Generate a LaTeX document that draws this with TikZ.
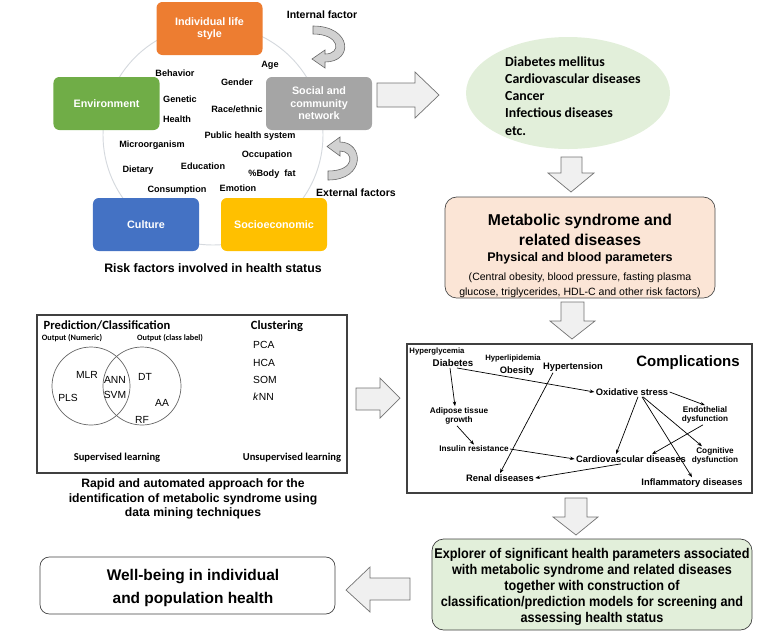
\documentclass[tikz,border=0pt]{standalone}
\usepackage{fontspec}
\setmainfont{Liberation Sans}
\newfontfamily\calib{Carlito}
\newfontfamily\narrowsf[FakeStretch=0.9]{Liberation Sans}
\usetikzlibrary{shapes.geometric,arrows.meta,calc}

\definecolor{lifeorange}{HTML}{ED7D31}
\definecolor{envgreen}{HTML}{70AD47}
\definecolor{socgray}{HTML}{A5A5A5}
\definecolor{cultblue}{HTML}{4472C4}
\definecolor{sociyellow}{HTML}{FFC000}
\definecolor{palegreen}{HTML}{E2EFDA}
\definecolor{peach}{HTML}{FBE5D6}
\definecolor{ringgray}{HTML}{D5D9DE}

\tikzset{
  factor/.style={rounded corners=5pt, minimum width=3.18cm, minimum height=1.59cm,
    text=white, align=center, font=\bfseries\fontsize{9.2}{10.6}\selectfont},
  riskword/.style={inner sep=0pt, font=\bfseries\fontsize{7.8}{9}\selectfont},
  fatarrow/.style={draw=black!55, fill=black!6, line width=0.6pt},
  bendarrow/.style={draw=black!60, fill=black!18, line width=0.5pt},
  comp/.style={inner sep=1pt, align=center, font=\bfseries\fontsize{8}{9.5}\selectfont},
  compsmall/.style={inner sep=1pt, align=center, font=\bfseries\fontsize{7}{7.8}\selectfont},
  link/.style={-{Stealth[length=4pt,width=3pt]}, line width=0.6pt},
  mlword/.style={inner sep=0pt, font=\fontsize{8.8}{10}\selectfont},
}

\begin{document}
\begin{tikzpicture}[x=0.03cm,y=-0.03cm]
\useasboundingbox (0,0) rectangle (758,631);

% risk factors
\draw[ringgray, line width=0.8pt] (213,135) circle[radius=3.3cm];
\node[factor, fill=lifeorange] (life) at (209.5,28.5) {Individual life\\style};
\node[factor, fill=envgreen] (env) at (106.5,103.5) {Environment};
\node[factor, fill=socgray] (social) at (319,103.5) {Social and\\community\\network};
\node[factor, fill=cultblue] (cult) at (146,224.5) {Culture};
\node[factor, fill=sociyellow] (socio) at (274,224.5) {Socioeconomic};

\node[riskword] (w1) at (175,73) {Behavior};
\node[riskword] (w2) at (270,65) {Age};
\node[riskword] (w3) at (237,82) {Gender};
\node[riskword] (w4) at (180,99) {Genetic};
\node[riskword] (w5) at (237,109) {Race/ethnic};
\node[riskword] (w6) at (177,119) {Health};
\node[riskword] (w7) at (250,136) {Public health system};
\node[riskword] (w8) at (152,145) {Microorganism};
\node[riskword] (w9) at (267,155) {Occupation};
\node[riskword] (w10) at (138,170) {Dietary};
\node[riskword] (w11) at (203,166) {Education};
\node[riskword] (w12) at (272,174) {\%Body\ \ fat};
\node[riskword] (w13) at (177,190) {Consumption};
\node[riskword] (w14) at (238,188) {Emotion};

\node[font=\bfseries\fontsize{9}{10}\selectfont] (internal) at (322,15) {Internal factor};
\node[font=\bfseries\fontsize{9}{10}\selectfont] (external) at (356,193) {External factors};
\node[font=\bfseries\fontsize{10.5}{12}\selectfont] (riskcap) at (213,268) {Risk factors involved in health status};

\draw[bendarrow] (313,26) -- (313,34) .. controls (340,34) and (342,54) .. (325,54)
  -- (325,50) -- (312,59) -- (325,68) -- (325,62) .. controls (354,62) and (352,26) .. (313,26) -- cycle;
\draw[bendarrow] (328,171) -- (328,180) .. controls (366,180) and (364,142) .. (340,142)
  -- (340,137) -- (327,146.5) -- (340,156) -- (340,151) .. controls (354,151) and (356,171) .. (328,171) -- cycle;

\draw[fatarrow] (377,83) -- (415,83) -- (415,72) -- (439,95) -- (415,118) -- (415,107) -- (377,107) -- cycle;

% diseases
\node[ellipse, fill=palegreen, minimum width=6.12cm, minimum height=3.36cm] (dis) at (568,93) {};
\node[align=left, anchor=west, inner sep=0pt, font=\calib\bfseries\fontsize{11.8}{14.6}\selectfont] (distext) at (505,96)
  {Diabetes mellitus\\Cardiovascular diseases\\Cancer\\Infectious diseases\\etc.};

\draw[fatarrow] (561,157) -- (582,157) -- (582,173) -- (594,173) -- (571,192) -- (548,173) -- (561,173) -- cycle;

\node[draw=black!70, fill=peach, rounded corners=10pt, line width=0.6pt,
  minimum width=8.1cm, minimum height=3.03cm] (metabox) at (580,247.5) {};
\node[align=center, font=\bfseries\fontsize{13.4}{17}\selectfont] (metab) at (580,230) {Metabolic syndrome and\\related diseases};
\node[font=\bfseries\fontsize{10.7}{12}\selectfont] (phys) at (580,258) {Physical\ and blood parameters};
\node[align=center, font=\fontsize{9}{12.6}\selectfont] (params) at (580,285)
  {(Central obesity, blood pressure, fasting plasma\\glucose, triglycerides, HDL-C and other risk factors)};

\draw[fatarrow] (561,302) -- (584,302) -- (584,321) -- (595,321) -- (572,339) -- (550,321) -- (561,321) -- cycle;

% complications
\node[draw=black!75, line width=1.1pt, minimum width=10.35cm, minimum height=4.47cm] (compbox) at (579.5,418.5) {};
\node[font=\bfseries\fontsize{12.8}{14}\selectfont] (complabel) at (688,363) {Complications};
\node[compsmall, font=\bfseries\fontsize{6.6}{7.5}\selectfont] (hyperg) at (437,352) {Hyperglycemia};
\node[comp, font=\bfseries\fontsize{8.3}{9.5}\selectfont] (diab) at (453,363) {Diabetes};
\node[compsmall, font=\bfseries\fontsize{6.6}{7.5}\selectfont] (hyperl) at (513,358) {Hyperlipidemia};
\node[comp] (obes) at (517,371) {Obesity};
\node[comp] (hyp) at (573,367) {Hypertension};
\node[comp] (oxid) at (632,392) {Oxidative stress};
\node[compsmall] (adip) at (459,416) {Adipose tissue\\growth};
\node[compsmall] (endo) at (705,415) {Endothelial\\dysfunction};
\node[compsmall] (ins) at (474,449) {Insulin resistance};
\node[compsmall] (cog) at (715,456) {Cognitive\\dysfunction};
\node[comp] (cvd) at (631,459) {Cardiovascular diseases};
\node[comp] (renal) at (500,478) {Renal diseases};
\node[comp] (infl) at (692,483) {Inflammatory diseases};

\draw[link] ($(diab.south)+(4,0)$) -- (oxid.west);
\draw[link] ($(diab.south)+(-3,0)$) -- ($(adip.north)+(-4,0)$);
\draw[link] ($(adip.south)+(-2,0)$) -- (ins.north);
\draw[link] (ins.east) -- (cvd.west);
\draw[link] ($(hyp.south)+(-20,0)$) -- (renal.north);
\draw[link] (oxid.east) -- (endo.north);
\draw[link] ($(oxid.south)+(6,0)$) -- ($(cvd.north)+(-15,0)$);
\draw[link] ($(oxid.south)+(11,0)$) -- ($(cog.north)+(-13,0)$);
\draw[link] ($(oxid.south)+(10,0)$) -- (infl.north);
\draw[link] ($(endo.south)+(-2,0)$) -- ($(cvd.north)+(21,0)$);
\draw[link] ($(cvd.south)+(-10,0)$) -- (renal.east);

% data mining
\node[draw=black!75, line width=1.1pt, minimum width=9.3cm, minimum height=4.74cm] (mlbox) at (192,394) {};
\node[font=\calib\bfseries\fontsize{10.7}{12}\selectfont] (pred) at (107,325) {Prediction/Classification};
\node[font=\calib\bfseries\fontsize{10.7}{12}\selectfont] (clust) at (277,326) {Clustering};
\node[font=\calib\bfseries\fontsize{7}{8}\selectfont] (outnum) at (72,338) {Output (Numeric)};
\node[font=\calib\bfseries\fontsize{7}{8}\selectfont] (outcls) at (170,338) {Output (class label)};
\draw[black!60, line width=0.6pt] (91,386) circle[radius=1.17cm];
\draw[black!60, line width=0.6pt] (142,386) circle[radius=1.17cm];
\node[mlword] (mlr) at (87,375) {MLR};
\node[mlword] (pls) at (68,398) {PLS};
\node[mlword] (ann) at (115,380) {ANN};
\node[mlword] (svm) at (115,395) {SVM};
\node[mlword] (dt) at (145,377) {DT};
\node[mlword] (aa) at (162,403) {AA};
\node[mlword] (rf) at (142,420) {RF};
\node[mlword, anchor=west] (pca) at (253,345) {PCA};
\node[mlword, anchor=west] (hca) at (253,363) {HCA};
\node[mlword, anchor=west] (som) at (253,380) {SOM};
\node[mlword, anchor=west] (knn) at (253,397) {\textit{k}NN};
\node[font=\calib\bfseries\fontsize{9}{10}\selectfont] (sup) at (117,458) {Supervised learning};
\node[font=\calib\bfseries\fontsize{9}{10}\selectfont] (unsup) at (292,458) {Unsupervised learning};
\node[align=center, font=\bfseries\fontsize{10.4}{12.4}\selectfont] (mlcap) at (193,499)
  {Rapid and automated approach for the\\identification of metabolic syndrome using\\data mining techniques};

\draw[fatarrow] (356,388) -- (380,388) -- (380,378) -- (400,398) -- (380,418) -- (380,410) -- (356,410) -- cycle;
\draw[fatarrow] (565,498) -- (587,498) -- (587,517) -- (598,517) -- (576,535) -- (553,517) -- (565,517) -- cycle;

% outcome
\node[draw=black!75, fill=palegreen, rounded corners=10pt, line width=0.6pt,
  minimum width=9.6cm, minimum height=2.73cm] (explbox) at (592,584.5) {};
\node[align=center, font=\narrowsf\bfseries\fontsize{12}{13.8}\selectfont] (expl) at (592,587)
  {Explorer of significant\ health parameters associated\\with metabolic syndrome and related diseases\\together with construction of\\classification/prediction\ models for screening and\\assessing health status};

\draw[fatarrow] (410,578) -- (370,578) -- (370,567) -- (346,590) -- (370,612) -- (370,600) -- (410,600) -- cycle;

\node[draw=black!75, rounded corners=8pt, line width=0.6pt,
  minimum width=8.85cm, minimum height=1.71cm] (wellbox) at (187.5,585.5) {};
\node[align=center, font=\bfseries\fontsize{13.2}{19.6}\selectfont] (well) at (193,588)
  {Well-being in individual\\and population health};
\end{tikzpicture}
\end{document}
